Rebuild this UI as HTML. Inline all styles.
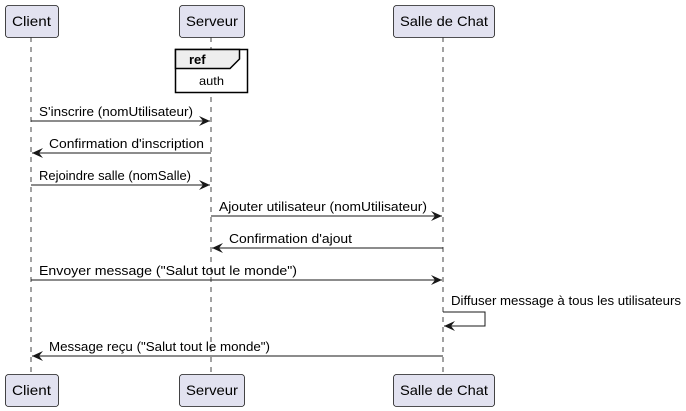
<!DOCTYPE html><html><head><meta charset="utf-8"><style>body{margin:0;background:#fff}svg{display:block}text{font-family:"Liberation Sans",sans-serif;font-size:13px;fill:#000}</style></head><body>
<svg width="686" height="411" viewBox="0 0 686 411">
<defs><marker id="a" markerWidth="12" markerHeight="10" refX="11" refY="5" orient="auto" markerUnits="userSpaceOnUse"><path d="M0,0 L11,5 L0,10 L4,5 Z" fill="#181818"/></marker></defs>
<g stroke="#181818" stroke-dasharray="5,5" stroke-width="0.8">
<line x1="31" y1="37" x2="31" y2="374"/><line x1="211" y1="37" x2="211" y2="374"/><line x1="443" y1="37" x2="443" y2="374"/></g>
<g fill="#E2E2F0" stroke="#181818" stroke-width="0.8">
<rect x="5.5" y="5.5" width="53" height="32" rx="3"/><rect x="179.5" y="5.5" width="65" height="32" rx="3"/><rect x="393.5" y="5.5" width="101" height="32" rx="3"/>
<rect x="5.5" y="374.5" width="53" height="32" rx="3"/><rect x="179.5" y="374.5" width="65" height="32" rx="3"/><rect x="393.5" y="374.5" width="101" height="32" rx="3"/></g>
<text x="12" y="26" style="font-size:14px" textLength="39" lengthAdjust="spacingAndGlyphs">Client</text><text x="186" y="26" style="font-size:14px" textLength="52" lengthAdjust="spacingAndGlyphs">Serveur</text><text x="400" y="26" style="font-size:14px" textLength="88" lengthAdjust="spacingAndGlyphs">Salle de Chat</text>
<text x="12" y="395" style="font-size:14px" textLength="39" lengthAdjust="spacingAndGlyphs">Client</text><text x="186" y="395" style="font-size:14px" textLength="52" lengthAdjust="spacingAndGlyphs">Serveur</text><text x="400" y="395" style="font-size:14px" textLength="88" lengthAdjust="spacingAndGlyphs">Salle de Chat</text>
<rect x="175.5" y="49.5" width="72" height="43" fill="#fff" stroke="#000" stroke-width="1.5"/>
<path d="M175.5,49.5 H239.5 V59 L230,68.5 H175.5 Z" fill="#EEEEEE" stroke="#000" stroke-width="1.5"/>
<text x="189" y="64" style="font-weight:bold">ref</text><text x="199" y="85" style="font-size:12px" textLength="25" lengthAdjust="spacingAndGlyphs">auth</text>
<g stroke="#181818" stroke-width="1" fill="none" marker-end="url(#a)">
<line x1="31" y1="121" x2="210" y2="121"/><line x1="211" y1="153" x2="32" y2="153"/>
<line x1="31" y1="185" x2="210" y2="185"/><line x1="211" y1="216" x2="442" y2="216"/>
<line x1="443" y1="248" x2="212" y2="248"/><line x1="31" y1="280" x2="442" y2="280"/>
<path d="M443,312 H485 V326 H444"/><line x1="443" y1="356" x2="32" y2="356"/></g>
<text x="39" y="116" textLength="154" lengthAdjust="spacingAndGlyphs">S'inscrire (nomUtilisateur)</text>
<text x="49" y="148" textLength="155" lengthAdjust="spacingAndGlyphs">Confirmation d'inscription</text>
<text x="39" y="180" textLength="152" lengthAdjust="spacingAndGlyphs">Rejoindre salle (nomSalle)</text>
<text x="219" y="211" textLength="208" lengthAdjust="spacingAndGlyphs">Ajouter utilisateur (nomUtilisateur)</text>
<text x="229" y="243" textLength="123" lengthAdjust="spacingAndGlyphs">Confirmation d'ajout</text>
<text x="39" y="275" textLength="258" lengthAdjust="spacingAndGlyphs">Envoyer message ("Salut tout le monde")</text>
<text x="451" y="305" textLength="230" lengthAdjust="spacingAndGlyphs">Diffuser message à tous les utilisateurs</text>
<text x="49" y="351" textLength="221" lengthAdjust="spacingAndGlyphs">Message reçu ("Salut tout le monde")</text>
</svg></body></html>
